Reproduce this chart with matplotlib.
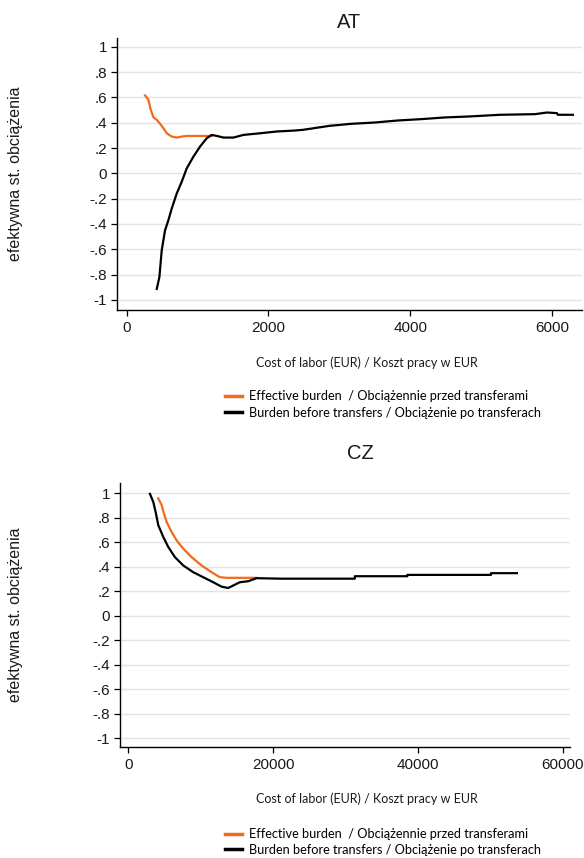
import matplotlib
matplotlib.use("Agg")
import matplotlib.pyplot as plt
from matplotlib.lines import Line2D

# ---- data: AT ----
at_eff_x = [259, 306, 339, 376, 424, 471, 518, 565, 635, 706, 776, 847, 1035, 1200]
at_eff_y = [0.616, 0.582, 0.503, 0.444, 0.423, 0.392, 0.357, 0.317, 0.291, 0.283, 0.291, 0.296, 0.296, 0.296]
at_bef_x = [424, 461, 494, 541, 588, 635, 706, 776, 847, 941, 1035, 1129, 1200, 1271, 1365, 1506,
            1647, 1882, 2118, 2353, 2485, 2865, 3176, 3500, 3825, 4164, 4488, 4841, 5265, 5759,
            5928, 6069, 6083, 6295]
at_bef_y = [-0.913, -0.82, -0.608, -0.45, -0.37, -0.278, -0.159, -0.066, 0.04, 0.132, 0.212, 0.278,
            0.304, 0.296, 0.283, 0.283, 0.304, 0.317, 0.331, 0.338, 0.344, 0.376, 0.392, 0.402,
            0.418, 0.429, 0.442, 0.45, 0.463, 0.468, 0.481, 0.476, 0.463, 0.463]

# ---- data: CZ ----
cz_eff_x = [4138, 4598, 4920, 5287, 5977, 6667, 7586, 8736, 10115, 11494, 12644, 13563, 15402, 17701]
cz_eff_y = [0.959, 0.904, 0.836, 0.767, 0.685, 0.616, 0.548, 0.479, 0.411, 0.356, 0.315, 0.31, 0.31, 0.31]
cz_bef_x = [2989, 3448, 3816, 4138, 4828, 5517, 6437, 7586, 8966, 10345, 11724, 12874, 13793, 14483,
            15402, 16552, 17701, 21101, 31284, 31284, 38532, 38532, 50092, 50092, 53670]
cz_bef_y = [0.995, 0.93, 0.836, 0.74, 0.644, 0.562, 0.479, 0.411, 0.356, 0.315, 0.274, 0.238, 0.227,
            0.247, 0.274, 0.282, 0.307, 0.303, 0.303, 0.323, 0.323, 0.334, 0.334, 0.348, 0.348]

y_ticks = [1, 0.8, 0.6, 0.4, 0.2, 0, -0.2, -0.4, -0.6, -0.8, -1]
y_labels = ["1", ".8", ".6", ".4", ".2", "0", "-.2", "-.4", "-.6", "-.8", "-1"]
at_x_ticks = [0, 2000, 4000, 6000]
cz_x_ticks = [0, 20000, 40000, 60000]

titles = ["AT", "CZ"]
ylabel = "efektywna st. obciążenia"
xlabel = "Cost of labor (EUR) / Koszt pracy w EUR"
leg_eff = "Effective burden  / Obciążennie przed transferami"
leg_bef = "Burden before transfers / Obciążenie po transferach"

ORANGE = "#f26a1b"
W, H = 584, 858
fig = plt.figure(figsize=(W / 100, H / 100), dpi=100)

def px_rect(l, t, r, b):
    return [l / W, 1 - b / H, (r - l) / W, (b - t) / H]

axes_specs = [
    dict(rect=px_rect(117, 38, 582, 310), xlim=(-137, 6423), ylim=(-1.08, 1.07),
         xt=at_x_ticks, ex=at_eff_x, ey=at_eff_y, bx=at_bef_x, by=at_bef_y,
         title_xy=(349, 22), xlab_y=363, leg_y=(396, 413), ylab_y=174),
    dict(rect=px_rect(120, 483, 570, 747), xlim=(-1146, 61000), ylim=(-1.071, 1.084),
         xt=cz_x_ticks, ex=cz_eff_x, ey=cz_eff_y, bx=cz_bef_x, by=cz_bef_y,
         title_xy=(360, 454), xlab_y=799, leg_y=(834, 850), ylab_y=615),
]

LEG_FS = 9.2
fs_px = LEG_FS * 100 / 72

for i, s in enumerate(axes_specs):
    ax = fig.add_axes(s["rect"])
    ax.plot(s["ex"], s["ey"], color=ORANGE, lw=1.6, zorder=3)
    ax.plot(s["bx"], s["by"], color="black", lw=1.6, zorder=4)
    ax.set_xlim(*s["xlim"])
    ax.set_ylim(*s["ylim"])
    ax.set_yticks(y_ticks)
    ax.set_yticklabels(y_labels)
    ax.set_xticks(s["xt"])
    ax.set_xticklabels([str(v) for v in s["xt"]])
    for sp in ["top", "right"]:
        ax.spines[sp].set_visible(False)
    for sp in ["left", "bottom"]:
        ax.spines[sp].set_linewidth(1.0)
        ax.spines[sp].set_color("black")
    ax.grid(axis="y", color="#e3e3e3", lw=1.0, zorder=0)
    ax.set_axisbelow(True)
    ax.tick_params(direction="out", length=4, width=0.9, colors="black",
                   labelcolor="#1a1a1a", labelsize=11)
    ax.tick_params(axis="x", pad=4)
    ax.tick_params(axis="y", pad=3)
    for lab in ax.get_xticklabels() + ax.get_yticklabels():
        lab.set_family("Liberation Sans")
    fig.text(s["title_xy"][0] / W, 1 - s["title_xy"][1] / H, titles[i],
             ha="center", va="center", fontsize=14.5, family="Liberation Sans", color="#1a1a1a")
    fig.text(16 / W, 1 - s["ylab_y"] / H, ylabel, rotation=90, ha="center", va="center",
             fontsize=11.5, family="Liberation Sans", color="#1a1a1a")
    fig.text(256 / W, 1 - s["xlab_y"] / H, xlabel, ha="left", va="center",
             fontsize=9, family="Lato", color="#1a1a1a")
    handles = [Line2D([], [], color=ORANGE, lw=2.5), Line2D([], [], color="black", lw=2.5)]
    y0, y1 = s["leg_y"]
    fig.legend(handles, [leg_eff, leg_bef], loc="center left",
               bbox_to_anchor=(225 / W, 1 - (y0 + y1) / 2 / H),
               frameon=False, handlelength=1.3, handletextpad=0.6,
               labelspacing=(y1 - y0 - fs_px) / fs_px, borderpad=0, borderaxespad=0,
               prop=dict(family="Lato", size=LEG_FS))

fig.savefig("out.png", dpi=100)
